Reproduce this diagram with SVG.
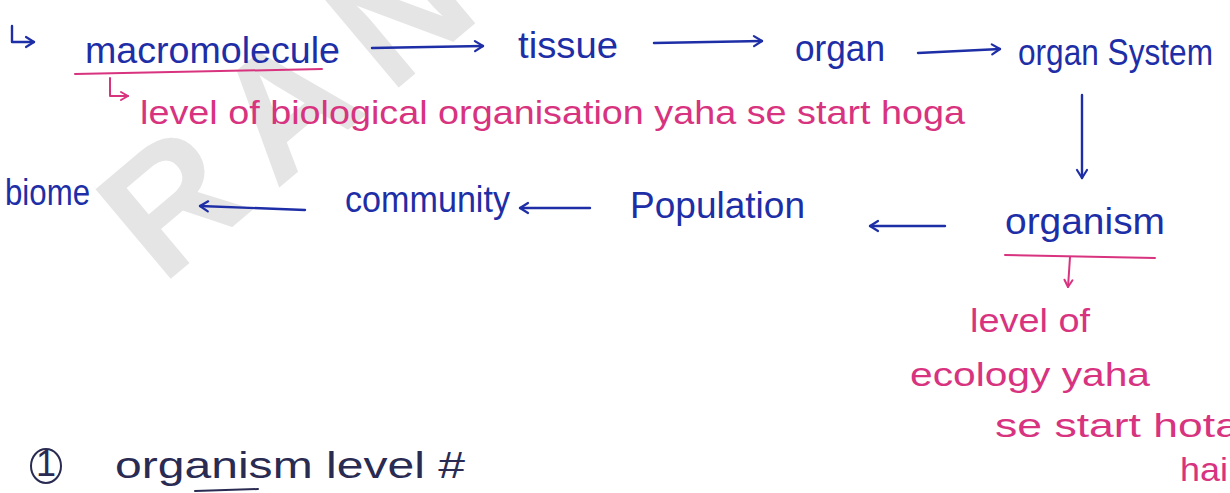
<svg xmlns="http://www.w3.org/2000/svg" width="1230" height="493" viewBox="0 0 1230 493">
<style>
.b{font-family:"Liberation Sans","DejaVu Sans",sans-serif;fill:#1e2ea6;font-size:36px}
.p{font-family:"Liberation Sans","DejaVu Sans",sans-serif;fill:#d8337f;font-size:33px}
.k{font-family:"Liberation Sans","DejaVu Sans",sans-serif;fill:#2a2b52;font-size:36px}
.lb{fill:none;stroke:#1e2ea6;stroke-width:2.4;stroke-linecap:round;stroke-linejoin:round}
.lp{fill:none;stroke:#d8337f;stroke-width:2;stroke-linecap:round;stroke-linejoin:round}
.wm{font-family:"Liberation Sans",sans-serif;font-weight:bold;font-size:170px;fill:#e5e5e5;letter-spacing:26px}
</style>
<defs>
<marker id="hb" viewBox="0 0 14 14" refX="12" refY="7" markerWidth="14" markerHeight="14" markerUnits="userSpaceOnUse" orient="auto">
<path d="M4,2 L12,7 L4,12" fill="none" stroke="#1e2ea6" stroke-width="2.2" stroke-linecap="round" stroke-linejoin="round"/>
</marker>
<marker id="hp" viewBox="0 0 12 12" refX="10" refY="6" markerWidth="12" markerHeight="12" markerUnits="userSpaceOnUse" orient="auto">
<path d="M3,2 L10,6 L3,10" fill="none" stroke="#d8337f" stroke-width="2" stroke-linecap="round" stroke-linejoin="round"/>
</marker>
</defs>
<rect width="1230" height="493" fill="#ffffff"/>
<text class="wm" transform="translate(162,286) rotate(-40)">RANI</text>

<g id="connectors">
<path class="lb" d="M12,26 L12,42 L34,42" marker-end="url(#hb)"/>
<path class="lb" d="M372,48 L483,46" marker-end="url(#hb)"/>
<path class="lb" d="M654,43 L762,41" marker-end="url(#hb)"/>
<path class="lb" d="M918,53 L1000,49" marker-end="url(#hb)"/>
<path class="lb" d="M1082,95 L1082,178" marker-end="url(#hb)"/>
<path class="lb" d="M305,210 L200,206" marker-end="url(#hb)"/>
<path class="lb" d="M590,208 L520,208" marker-end="url(#hb)"/>
<path class="lb" d="M945,226 L870,226" marker-end="url(#hb)"/>
<path class="lp" d="M75,74 L322,69"/>
<path class="lp" d="M110,78 L110,96 L128,96" marker-end="url(#hp)"/>
<path class="lp" d="M1005,255 L1155,258"/>
<path class="lp" d="M1070,257 L1068,287" marker-end="url(#hp)"/>
<path d="M195,491 L258,489" fill="none" stroke="#2a2b52" stroke-width="2" stroke-linecap="round"/>
</g>

<g id="n-macromolecule"><text class="b" x="85" y="63" textLength="255" lengthAdjust="spacingAndGlyphs">macromolecule</text></g>
<g id="n-tissue"><text class="b" x="518" y="58" textLength="100" lengthAdjust="spacingAndGlyphs">tissue</text></g>
<g id="n-organ"><text class="b" x="795" y="61" textLength="90" lengthAdjust="spacingAndGlyphs">organ</text></g>
<g id="n-organsystem"><text class="b" x="1018" y="65" font-size="33" textLength="195" lengthAdjust="spacingAndGlyphs">organ System</text></g>
<g id="n-organism"><text class="b" x="1005" y="234" textLength="160" lengthAdjust="spacingAndGlyphs">organism</text></g>
<g id="n-population"><text class="b" x="630" y="218" textLength="175" lengthAdjust="spacingAndGlyphs">Population</text></g>
<g id="n-community"><text class="b" x="345" y="212" textLength="165" lengthAdjust="spacingAndGlyphs">community</text></g>
<g id="n-biome"><text class="b" x="5" y="205" textLength="85" lengthAdjust="spacingAndGlyphs">biome</text></g>

<g id="note-biological">
<text class="p" x="140" y="124" textLength="825" lengthAdjust="spacingAndGlyphs">level of biological organisation yaha se start hoga</text>
</g>
<g id="note-ecology">
<text class="p" x="970" y="332" textLength="120" lengthAdjust="spacingAndGlyphs">level of</text>
<text class="p" x="910" y="386" textLength="240" lengthAdjust="spacingAndGlyphs">ecology yaha</text>
<text class="p" x="995" y="437" textLength="245" lengthAdjust="spacingAndGlyphs">se start hota</text>
<text class="p" x="1180" y="481" textLength="48" lengthAdjust="spacingAndGlyphs">hai</text>
</g>
<g id="heading">
<ellipse cx="46" cy="466" rx="15" ry="17" fill="none" stroke="#2a2b52" stroke-width="2"/>
<text class="k" x="46" y="476" text-anchor="middle" font-size="26">1</text>
<text class="k" x="115" y="478" textLength="350" lengthAdjust="spacingAndGlyphs">organism level #</text>
</g>
</svg>
